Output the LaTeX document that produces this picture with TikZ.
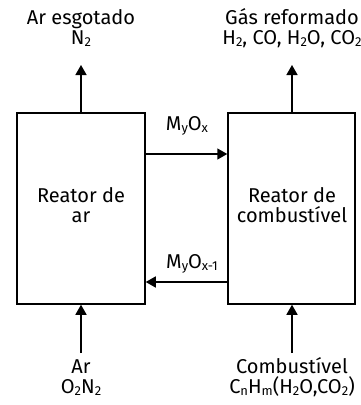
\documentclass[tikz,border=0pt]{standalone}
\usepackage{fontspec}
\setmainfont{Fira Sans}
\usetikzlibrary{arrows.meta}
\newcommand{\sbs}[1]{\raisebox{-0.2ex}{\fontsize{13}{13}\selectfont #1}}
\tikzset{
  reactor/.style={draw, line width=1.5pt, minimum width=128pt, minimum height=191pt, inner sep=0pt},
  flow/.style={line width=1.5pt, -{Triangle[length=10pt,width=11pt]}},
  lbl/.style={align=center, font=\fontsize{20}{20}\selectfont, inner sep=0pt, anchor=base},
}
\begin{document}
\begin{tikzpicture}[x=1pt,y=-1pt]
\useasboundingbox (0,0) rectangle (361,405);
\node[reactor] (left) at (81,208.5) {};
\node[reactor, minimum width=127pt] (right) at (291.5,208.5) {};
\node[lbl] (lt1) at (81,222) {Reator de\\ar};
\node[lbl] (rt1) at (292,222) {Reator de\\combustível};
\coordinate (lt) at (81,65);
\coordinate (rt) at (292,65);
\coordinate (lb) at (81,353);
\coordinate (rb) at (292,353);
\draw[flow] (left.north -| lt) -- (lt);
\draw[flow] (right.north -| rt) -- (rt);
\draw[flow] (lb) -- (left.south -| lb);
\draw[flow] (rb) -- (right.south -| rb);
\coordinate (m1) at (0,154);
\coordinate (m2) at (0,282);
\draw[flow] (left.east |- m1) -- (right.west |- m1);
\draw[flow] (right.west |- m2) -- (left.east |- m2);
\node[lbl] (t1) at (81,44.5) {Ar esgotado\\N\sbs{2}};
\node[lbl] (t2) at (292,44.5) {Gás reformado\\H\sbs{2}, CO, H\sbs{2}O, CO\sbs{2}};
\node[lbl] (b1) at (81,393.5) {Ar\\O\sbs{2}N\sbs{2}};
\node[lbl] (b2) at (292,393.5) {Combustível\\C\sbs{n}H\sbs{m}(H\sbs{2}O,CO\sbs{2})};
\node[lbl] (ml1) at (187,130.5) {M\sbs{y}O\sbs{x}};
\node[lbl] (ml2) at (192,268) {M\sbs{y}O\sbs{x-1}};
\end{tikzpicture}
\end{document}
